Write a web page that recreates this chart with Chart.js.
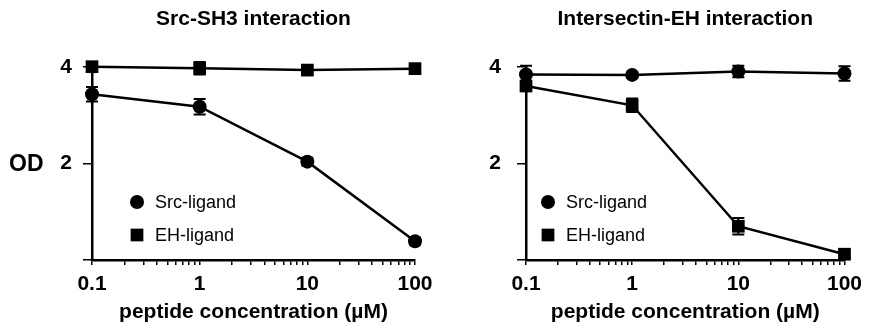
<!DOCTYPE html>
<html>
<head>
<meta charset="utf-8">
<script src="https://cdn.jsdelivr.net/npm/chart.js@4.4.1/dist/chart.umd.min.js"></script>
<style>
  html, body { margin: 0; padding: 0; background: #fff; }
  #wrap { position: relative; width: 869px; height: 326px; }
  .panel { position: absolute; top: 0; height: 326px; }
</style>
</head>
<body>
<div id="wrap">
  <div class="panel" style="left:0;width:440px"><canvas id="graph_src" width="440" height="326"></canvas></div>
  <div class="panel" style="left:440px;width:429px"><canvas id="graph_itsn" width="429" height="326"></canvas></div>
</div>
<script>
/*------------------------------*/
/*            DATA              */
/*------------------------------*/
var concentrations = [0.1, 1, 10, 100]
var xMajorTicks = [0.1, 1, 10, 100]
var yTickValues = [0, 2, 4]
var yTickLabels = ['', '2', '4']
var legendLabels = ['Src-ligand', 'EH-ligand']

// Src-SH3 interaction
var srcSH3_src = [3.44, 3.18, 2.04, 0.39]
var srcSH3_src_err = [0.15, 0.16, 0.08, 0.07]
var srcSH3_eh = [4.01, 3.98, 3.94, 3.97]
var srcSH3_eh_err = [0.05, 0.13, 0.08, 0.08]

// Intersectin-EH interaction
var itsnEH_src = [3.85, 3.84, 3.91, 3.87]
var itsnEH_src_err = [0.18, 0.05, 0.12, 0.15]
var itsnEH_eh = [3.61, 3.21, 0.70, 0.12]
var itsnEH_eh_err = [0.1, 0.14, 0.17, 0.08]

Chart.defaults.font.family = "'Liberation Sans', Arial, Helvetica, sans-serif"
Chart.defaults.color = '#000'

function points(values) {
  return concentrations.map(function (c, i) { return { x: c, y: values[i] } })
}

function logTicks() {
  var list = []
  for (var d = 0.1; d < 100; d *= 10) {
    for (var k = 1; k < 10; k++) list.push(+(d * k).toPrecision(3))
  }
  list.push(100)
  return list
}

/*------------------------------*/
/*          PLUGINS             */
/*------------------------------*/
var errorBars = {
  id: 'errorBars',
  afterDatasetsDraw: function (chart) {
    var ctx = chart.ctx
    var y = chart.scales.y
    ctx.save()
    ctx.strokeStyle = '#000'
    ctx.lineWidth = 2
    chart.data.datasets.forEach(function (ds, i) {
      var meta = chart.getDatasetMeta(i)
      meta.data.forEach(function (pt, j) {
        var e = ds.errorBars[j]
        var v = ds.data[j].y
        var top = y.getPixelForValue(v + e)
        var bot = y.getPixelForValue(v - e)
        ctx.beginPath()
        ctx.moveTo(pt.x, top); ctx.lineTo(pt.x, bot)
        ctx.moveTo(pt.x - 6, top); ctx.lineTo(pt.x + 6, top)
        ctx.moveTo(pt.x - 6, bot); ctx.lineTo(pt.x + 6, bot)
        ctx.stroke()
      })
    })
    ctx.restore()
  }
}

var insetLegend = {
  id: 'insetLegend',
  afterDraw: function (chart, args, opts) {
    var ctx = chart.ctx
    ctx.save()
    ctx.font = '18px ' + Chart.defaults.font.family
    ctx.textBaseline = 'middle'
    ctx.textAlign = 'left'
    ctx.fillStyle = '#000'
    ctx.strokeStyle = '#000'
    chart.data.datasets.forEach(function (ds, i) {
      var yy = opts.y + i * opts.gap
      Chart.helpers.drawPoint(ctx, {
        pointStyle: ds.pointStyle,
        radius: ds.pointStyle === 'rect' ? 9 : 7,
        rotation: 0,
        borderWidth: 0
      }, opts.x, yy)
      ctx.fillText(ds.label, opts.x + 18, yy + 1)
    })
    if (opts.yTitle) {
      ctx.font = 'bold 23px ' + Chart.defaults.font.family
      ctx.fillText(opts.yTitle, opts.yTitleX, chart.scales.y.getPixelForValue(2) + 1)
    }
    ctx.restore()
  }
}

function makeConfig(title, srcVals, srcErr, ehVals, ehErr, yWidth, padRight, labelPad, legendPos, yTitle) {
  return {
    type: 'line',
    data: {
      datasets: [{
        label: legendLabels[0],
        data: points(srcVals),
        errorBars: srcErr,
        borderColor: '#000',
        backgroundColor: '#000',
        borderWidth: 2.5,
        pointStyle: 'circle',
        pointRadius: 7,
        pointBorderWidth: 0,
        clip: false
      }, {
        label: legendLabels[1],
        data: points(ehVals),
        errorBars: ehErr,
        borderColor: '#000',
        backgroundColor: '#000',
        borderWidth: 2.5,
        pointStyle: 'rect',
        pointRadius: 9,
        pointBorderWidth: 0,
        clip: false
      }]
    },
    options: {
      responsive: false,
      animation: false,
      layout: { padding: { left: 0, right: padRight, top: 0, bottom: 0 } },
      plugins: {
        legend: { display: false },
        tooltip: { enabled: false },
        title: {
          display: true,
          text: title,
          fullSize: false,
          font: { size: 21, weight: 'bold' },
          padding: { top: 7, bottom: 35 }
        },
        insetLegend: { x: legendPos[0], y: legendPos[1], gap: 33, yTitle: yTitle, yTitleX: 9 }
      },
      scales: {
        x: {
          type: 'logarithmic',
          min: 0.1,
          max: 100,
          border: { display: true, color: '#000', width: 2.5 },
          grid: { display: true, drawOnChartArea: false, drawTicks: true, tickLength: 5, color: '#000', lineWidth: 1.5 },
          afterBuildTicks: function (scale) {
            scale.ticks = logTicks().map(function (v) { return { value: v, major: xMajorTicks.indexOf(v) >= 0 } })
          },
          ticks: {
            autoSkip: false,
            maxRotation: 0,
            padding: 7,
            font: { size: 21, weight: 'bold' },
            callback: function (value) { return xMajorTicks.indexOf(value) >= 0 ? String(value) : '' }
          },
          title: {
            display: true,
            text: 'peptide concentration (\u00b5M)',
            font: { size: 21, weight: 'bold' },
            padding: { top: 4, bottom: 1 }
          },
          afterFit: function (scale) { scale.height = 66 }
        },
        y: {
          min: 0,
          max: 4,
          border: { display: true, color: '#000', width: 2.5 },
          grid: { display: true, drawOnChartArea: false, drawTicks: true, tickLength: 9, color: '#000', lineWidth: 1.5 },
          afterBuildTicks: function (scale) {
            scale.ticks = yTickValues.map(function (v) { return { value: v } })
          },
          ticks: {
            padding: labelPad,
            font: { size: 21, weight: 'bold' },
            callback: function (value) { return yTickLabels[yTickValues.indexOf(value)] }
          },
          afterFit: function (scale) { scale.width = yWidth }
        }
      }
    },
    plugins: [errorBars, insetLegend]
  }
}

/*------------------------------*/
/*     GRAPHIQUE 1 SRC-SH3      */
/*------------------------------*/
var ctx_src = document.getElementById('graph_src').getContext('2d')
var graph_src = new Chart(ctx_src, makeConfig('Src-SH3 interaction',
  srcSH3_src, srcSH3_src_err, srcSH3_eh, srcSH3_eh_err, 92, 25, 11, [137, 202], 'OD'))

/*------------------------------*/
/*   GRAPHIQUE 2 INTERSECTIN    */
/*------------------------------*/
var ctx_itsn = document.getElementById('graph_itsn').getContext('2d')
var graph_itsn = new Chart(ctx_itsn, makeConfig('Intersectin-EH interaction',
  itsnEH_src, itsnEH_src_err, itsnEH_eh, itsnEH_eh_err, 86, 20, 16, [108, 202], null))
</script>
</body>
</html>
